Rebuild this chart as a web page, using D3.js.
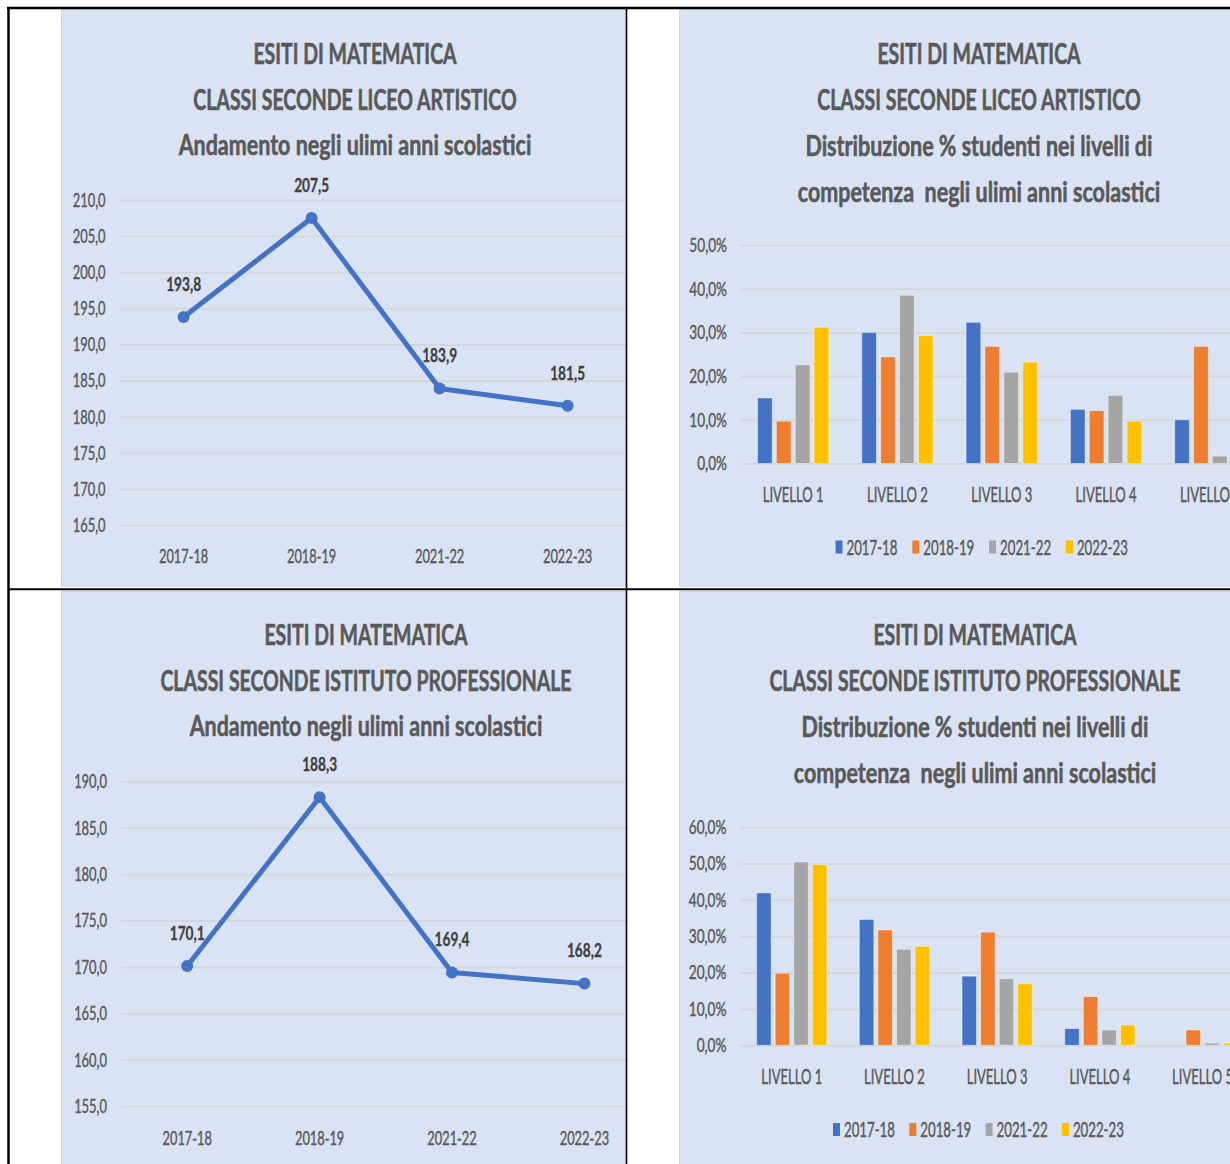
<!DOCTYPE html>
<html lang="it">
<head>
<meta charset="utf-8">
<title>Esiti di matematica</title>
<script src="https://cdn.jsdelivr.net/npm/d3@7"></script>
<style>
	html, body { margin: 0; padding: 0; background: #fff; }
	svg { display: block; font-family: Lato, "Open Sans", sans-serif; }
</style>
</head>
<body>
<svg id="pagina" width="1230" height="1164"></svg>
<script>
// ---- dati ----
var anni = ["2017-18", "2018-19", "2021-22", "2022-23"];
var livelli = ["LIVELLO 1", "LIVELLO 2", "LIVELLO 3", "LIVELLO 4", "LIVELLO 5"];
var colori = ["#4472C4", "#ED7D31", "#A5A5A5", "#FFC000"];

// liceo artistico
var artMedia = [193.8, 207.5, 183.9, 181.5];
var art1718 = [15.0, 30.0, 32.3, 12.4, 10.0];
var art1819 = [9.7, 24.4, 26.8, 12.1, 26.8];
var art2122 = [22.6, 38.5, 20.9, 15.6, 1.7];
var art2223 = [31.2, 29.3, 23.2, 9.7, 6.4];

// istituto professionale
var profMedia = [170.1, 188.3, 169.4, 168.2];
var prof1718 = [41.9, 34.6, 19.0, 4.6, 0.0];
var prof1819 = [19.8, 31.7, 31.1, 13.4, 4.2];
var prof2122 = [50.4, 26.4, 18.3, 4.2, 0.6];
var prof2223 = [49.7, 27.2, 16.9, 5.6, 0.6];

var titoloArtMedia = ["ESITI DI MATEMATICA", "CLASSI SECONDE LICEO ARTISTICO", "Andamento negli ulimi anni scolastici"];
var titoloArtLiv = ["ESITI DI MATEMATICA", "CLASSI SECONDE LICEO ARTISTICO", "Distribuzione % studenti nei livelli di", "competenza  negli ulimi anni scolastici"];
var titoloProfMedia = ["ESITI DI MATEMATICA", "CLASSI SECONDE ISTITUTO PROFESSIONALE", "Andamento negli ulimi anni scolastici"];
var titoloProfLiv = ["ESITI DI MATEMATICA", "CLASSI SECONDE ISTITUTO PROFESSIONALE", "Distribuzione % studenti nei livelli di", "competenza  negli ulimi anni scolastici"];

var it = d3.formatLocale({ decimal: ",", thousands: ".", grouping: [3], currency: ["€", ""] });
var f1 = it.format(".1f");

var svg = d3.select("#pagina");
var nClip = 0;

// il testo originale e' molto stretto in orizzontale
function stringi(sel, k) {
	sel.each(function () {
		var w = this.getComputedTextLength();
		d3.select(this).attr("textLength", w * k).attr("lengthAdjust", "spacingAndGlyphs");
	});
}

function pannello(x, y, w, h) {
	var id = "clip" + (nClip++);
	svg.append("clipPath").attr("id", id)
		.append("rect").attr("x", x).attr("y", y).attr("width", w).attr("height", h);
	var g = svg.append("g").attr("clip-path", "url(#" + id + ")");
	g.append("rect")
		.attr("x", x + 0.5).attr("y", y + 0.5)
		.attr("width", w).attr("height", h)
		.attr("fill", "#DAE3F3")
		.attr("stroke", "#D4D4D4");
	return g;
}

function titolo(g, righe, cx, y0, passo) {
	var t = g.selectAll("text.titolo")
		.data(righe)
		.enter()
		.append("text")
		.attr("class", "titolo")
		.attr("x", cx)
		.attr("y", (d, i) => y0 + i * passo + 10.4)
		.attr("text-anchor", "middle")
		.attr("font-size", 29)
		.attr("font-weight", 700)
		.attr("fill", "#595959")
		.attr("stroke", "#595959")
		.attr("stroke-width", 0.6)
		.style("white-space", "pre")
		.text((d) => d);
	t.each(function (d) {
		stringi(d3.select(this), d === d.toUpperCase() ? 0.672 : 0.741);
	});
}

function asseY(g, y, x0, x1, valori, fmt, k) {
	var ax = g.append("g")
		.attr("transform", "translate(" + x0 + ",0)")
		.call(d3.axisLeft(y).tickValues(valori).tickFormat(fmt)
			.tickSize(-(x1 - x0)).tickPadding(14));
	ax.select(".domain").remove();
	ax.selectAll("line").attr("stroke", "#D5D7DB").attr("stroke-width", 2);
	var t = ax.selectAll("text")
		.attr("font-family", "Lato, 'Open Sans', sans-serif")
		.attr("font-size", 20)
		.attr("fill", "#595959")
		.attr("stroke", "#595959")
		.attr("stroke-width", 0.45);
	stringi(t, k);
}

function asseX(g, x, yc, size, k) {
	var ax = g.append("g")
		.attr("transform", "translate(0," + yc + ")")
		.call(d3.axisBottom(x).tickSize(0).tickPadding(0));
	ax.select(".domain").remove();
	var t = ax.selectAll("text")
		.attr("y", 0).attr("dy", "0.36em")
		.attr("font-family", "Lato, 'Open Sans', sans-serif")
		.attr("font-size", size)
		.attr("fill", "#595959")
		.attr("stroke", "#595959")
		.attr("stroke-width", 0.45);
	stringi(t, k);
}

function graficoLinea(g, c) {
	titolo(g, c.titolo, c.cx, c.ty, 45.5);
	var x = d3.scaleBand().domain(anni).range(c.xr);
	var y = d3.scaleLinear().domain(c.dom).range(c.yr);
	asseY(g, y, c.xr[0], c.xr[1], d3.range(c.dom[0], c.dom[1] + 1, 5), f1, 0.645);
	asseX(g, x, c.xy, 20, 0.64);

	var pts = c.valori.map((v, i) => ({ anno: anni[i], v: v }));
	var cx = (d) => x(d.anno) + x.bandwidth() / 2;

	g.append("path")
		.datum(pts)
		.attr("fill", "none")
		.attr("stroke", "#4472C4")
		.attr("stroke-width", 5)
		.attr("stroke-linejoin", "round")
		.attr("d", d3.line().x(cx).y((d) => y(d.v)));

	g.selectAll("circle.m")
		.data(pts)
		.enter()
		.append("circle")
		.attr("class", "m")
		.attr("cx", cx)
		.attr("cy", (d) => y(d.v))
		.attr("r", 6)
		.attr("fill", "#4472C4");

	var et = g.selectAll("text.et")
		.data(pts)
		.enter()
		.append("text")
		.attr("class", "et")
		.attr("x", cx)
		.attr("y", (d) => y(d.v) - 33)
		.attr("dy", "0.36em")
		.attr("text-anchor", "middle")
		.attr("font-size", 19)
		.attr("font-weight", 700)
		.attr("fill", "#404040")
		.attr("stroke", "#404040")
		.attr("stroke-width", 0.3)
		.text((d) => f1(d.v));
	stringi(et, 0.72);
}

function graficoBarre(g, c) {
	titolo(g, c.titolo, c.cx, c.ty, 45.7);
	var x = d3.scaleBand().domain(livelli).range(c.xr);
	var bw = x.bandwidth();
	var xs = d3.scaleBand().domain(anni).range([bw * 0.158, bw * 0.842]).paddingInner(0.22);
	var y = d3.scaleLinear().domain(c.dom).range(c.yr);
	asseY(g, y, c.xr[0], c.xr[1], d3.range(c.dom[0], c.dom[1] + 1, 10), (v) => f1(v) + "%", 0.68);
	asseX(g, x, c.xy, 21, 0.62);

	var serie = c.serie.map((vals, j) => ({ anno: anni[j], col: colori[j], vals: vals }));
	var gs = g.selectAll("g.serie")
		.data(serie)
		.enter()
		.append("g")
		.attr("class", "serie")
		.attr("fill", (d) => d.col);
	gs.selectAll("rect")
		.data((s) => s.vals.map((v, i) => ({ anno: s.anno, liv: livelli[i], v: v })))
		.enter()
		.append("rect")
		.filter((d) => d.v > 0)
		.attr("x", (d) => x(d.liv) + xs(d.anno))
		.attr("y", (d) => y(d.v))
		.attr("width", xs.bandwidth())
		.attr("height", (d) => y(0) - y(d.v))
		.attr("stroke", "rgba(255,255,255,0.45)")
		.attr("stroke-width", 1);

	// legenda
	var lg = g.selectAll("g.leg")
		.data(anni)
		.enter()
		.append("g")
		.attr("class", "leg")
		.attr("transform", (d, i) => "translate(" + (c.lx + i * c.lp) + "," + c.ly + ")");
	lg.append("rect")
		.attr("x", 0).attr("y", -6.5)
		.attr("width", 7).attr("height", 13)
		.attr("fill", (d, i) => colori[i]);
	var lt = lg.append("text")
		.attr("x", 11)
		.attr("dy", "0.36em")
		.attr("font-size", 21)
		.attr("fill", "#595959")
		.attr("stroke", "#595959")
		.attr("stroke-width", 0.45)
		.text((d) => d);
	stringi(lt, 0.63);
}

var gTL = pannello(61, 9, 565, 578);
graficoLinea(gTL, {
	titolo: titoloArtMedia, cx: 355, ty: 54,
	valori: artMedia, dom: [165, 210], yr: [525, 200],
	xr: [119.6, 631.6], xy: 556
});

var gBL = pannello(61, 591, 565, 573);
graficoLinea(gBL, {
	titolo: titoloProfMedia, cx: 366, ty: 635,
	valori: profMedia, dom: [155, 190], yr: [1106, 781.5],
	xr: [121, 650.6], xy: 1137.5
});

var gTR = pannello(679, 9, 560, 578);
graficoBarre(gTR, {
	titolo: titoloArtLiv, cx: 979, ty: 54,
	serie: [art1718, art1819, art2122, art2223],
	dom: [0, 50], yr: [463.5, 245],
	xr: [741, 1262.5], xy: 494.5,
	lx: 835.5, lp: 76.8, ly: 547
});

var gBR = pannello(679, 591, 560, 573);
graficoBarre(gBR, {
	titolo: titoloProfLiv, cx: 975, ty: 635,
	serie: [prof1718, prof1819, prof2122, prof2223],
	dom: [0, 60], yr: [1045.3, 827],
	xr: [740.4, 1253.9], xy: 1076.5,
	lx: 833, lp: 76.3, ly: 1129.5
});

// bordi della tabella
var bordi = svg.append("g").attr("stroke", "#000");
bordi.append("line").attr("x1", 7).attr("x2", 1230).attr("y1", 8).attr("y2", 8).attr("stroke-width", 2.5);
bordi.append("line").attr("x1", 8.5).attr("x2", 8.5).attr("y1", 7).attr("y2", 1164).attr("stroke-width", 2.5);
bordi.append("line").attr("x1", 626.5).attr("x2", 626.5).attr("y1", 8).attr("y2", 1164).attr("stroke-width", 1.6);
bordi.append("line").attr("x1", 8).attr("x2", 1230).attr("y1", 589.2).attr("y2", 589.2).attr("stroke-width", 2);
</script>
</body>
</html>
